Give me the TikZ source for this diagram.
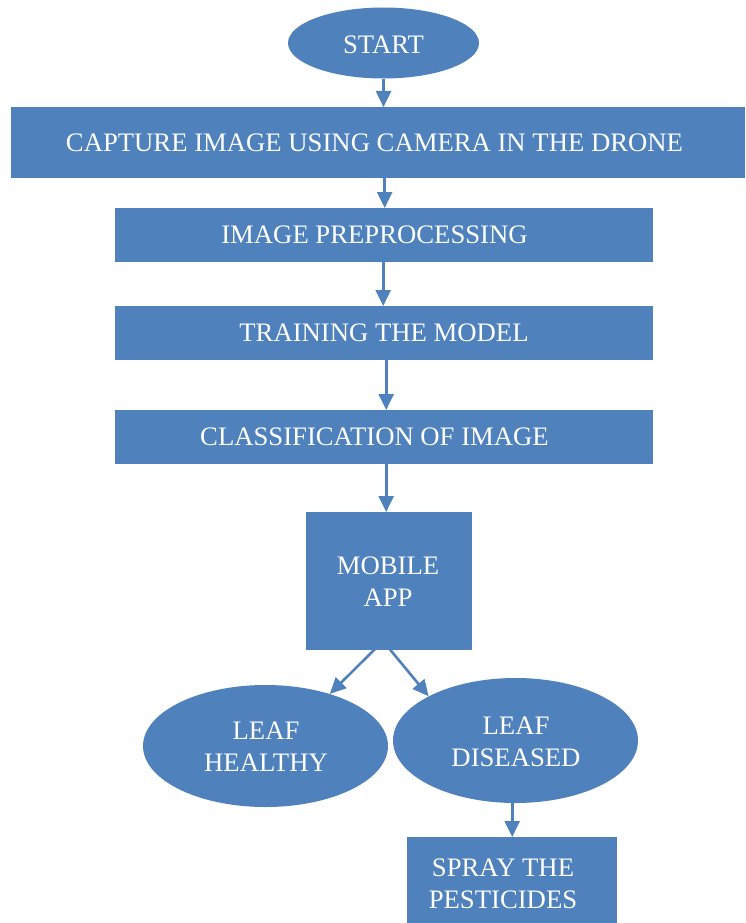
\documentclass[tikz,border=0pt]{standalone}
\usepackage{fontspec}
\setmainfont{Liberation Serif}
\usetikzlibrary{shapes.geometric,arrows.meta}
\definecolor{ofblue}{RGB}{79,129,189}
\begin{document}
\begin{tikzpicture}[x=1pt,y=-1pt,
  box/.style={fill=ofblue,draw=none,inner sep=0pt,anchor=north west},
  oval/.style={ellipse,fill=ofblue,draw=none,inner sep=0pt},
  txt/.style={text=white,align=center,inner sep=0pt,font=\fontsize{26.7}{32}\selectfont},
  flow/.style={draw=ofblue,line width=2.6pt,-{Triangle[width=15pt,length=16pt]}}]
\useasboundingbox (0,0) rectangle (745,923);
% shapes
\node[oval,minimum width=191pt,minimum height=71pt] (st) at (383.5,43) {};
\node[box,minimum width=734pt,minimum height=71pt] (cap) at (11,107) {};
\node[box,minimum width=538pt,minimum height=54pt] (pre) at (115,208) {};
\node[box,minimum width=538pt,minimum height=54pt] (tr) at (115,306) {};
\node[box,minimum width=538pt,minimum height=54pt] (cl) at (115,410) {};
\node[box,minimum width=166pt,minimum height=138pt] (mob) at (306,512) {};
\node[oval,minimum width=245pt,minimum height=122pt] (lh) at (265.5,746) {};
\node[oval,minimum width=245pt,minimum height=125pt] (ld) at (515.5,740.5) {};
\node[box,minimum width=210pt,minimum height=87pt] (sp) at (407,837) {};
% texts
\node[txt] (tst) at (383.5,45) {START};
\node[txt] (tcap) at (374.5,143) {CAPTURE IMAGE USING CAMERA IN THE DRONE};
\node[txt] (tpre) at (374.5,235) {IMAGE PREPROCESSING};
\node[txt] (ttr) at (384,333) {TRAINING THE MODEL};
\node[txt] (tcl) at (374.5,437) {CLASSIFICATION OF IMAGE};
\node[txt] (tmob) at (388,582) {MOBILE\\APP};
\node[txt] (tlh) at (266,747) {LEAF\\HEALTHY};
\node[txt] (tld) at (516,742) {LEAF\\DISEASED};
\node[txt] (tsp) at (503,884) {SPRAY THE\\PESTICIDES};
% connectors
\coordinate (m1) at (383,641);
\draw[flow] (st.south) -- (st.south |- cap.north);
\draw[flow] ([xshift=0.5pt]cap.south -| pre.north) -- ([xshift=0.5pt]pre.north);
\draw[flow] ([xshift=-1pt]pre.south) -- ([xshift=-1pt]tr.north);
\draw[flow] ([xshift=2pt]tr.south) -- ([xshift=2pt]cl.north);
\draw[flow] ([xshift=2pt]cl.south) -- ([xshift=-3pt]mob.north);
\draw[flow] (m1) -- (lh.39);
\draw[flow] (m1) -- (ld.153);
\draw[flow] (ld.south -| sp.north) -- (sp.north);
\end{tikzpicture}
\end{document}
